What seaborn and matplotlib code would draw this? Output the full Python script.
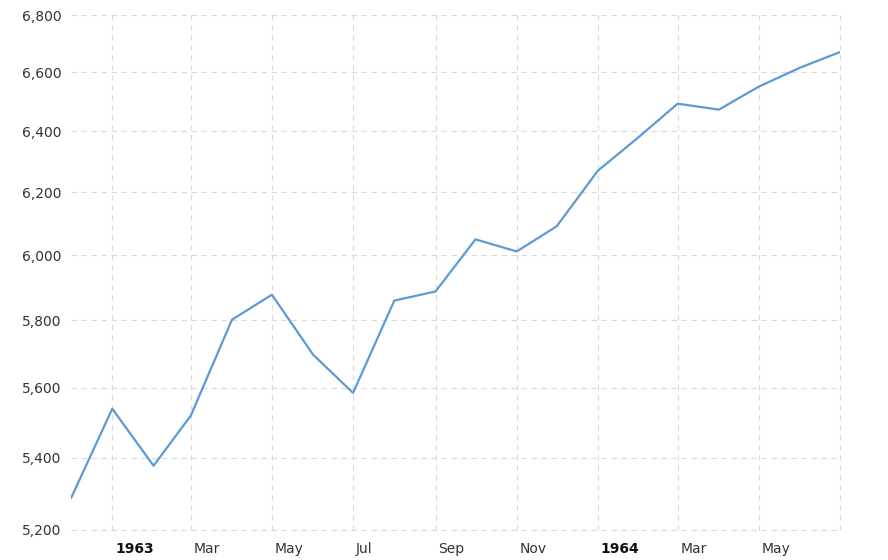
import pandas as pd
import matplotlib
matplotlib.use('Agg')
import matplotlib.pyplot as plt
import matplotlib.ticker as mticker
import matplotlib.transforms as mtransforms
import seaborn as sns

# Monthly values, Dec 1962 - Jul 1964
months = pd.date_range('1962-12-01', periods=20, freq='MS')
values = [5287, 5539, 5377, 5519, 5802, 5878, 5697, 5585, 5860, 5888,
          6050, 6012, 6091, 6270, 6382, 6493, 6473, 6551, 6616, 6670]

y_ticks = [5200, 5400, 5600, 5800, 6000, 6200, 6400, 6600, 6800]
x_tick_dates = pd.to_datetime(['1963-01-01', '1963-03-01', '1963-05-01', '1963-07-01',
                               '1963-09-01', '1963-11-01', '1964-01-01', '1964-03-01',
                               '1964-05-01'])
x_tick_labels = ['1963', 'Mar', 'May', 'Jul', 'Sep', 'Nov', '1964', 'Mar', 'May']

df = pd.DataFrame({'date': months, 'value': values})

sns.set_style('white')
plt.rcParams['font.family'] = ['DejaVu Sans']

fig = plt.figure(figsize=(8.88, 5.6), dpi=100)
ax = fig.add_axes([0.0800, 0.0536, 0.8659, 0.9196])

sns.lineplot(data=df, x='date', y='value', ax=ax, color='#5b9bd5', linewidth=1.6, zorder=3)

ax.set_yscale('log')
ax.set_ylim(5200, 6800)
ax.set_xlim(months[0], months[-1])
ax.yaxis.set_major_locator(mticker.FixedLocator(y_ticks))
ax.yaxis.set_minor_locator(mticker.NullLocator())
ax.set_yticklabels([f'{v:,}' for v in y_ticks])

ax.set_xticks(x_tick_dates)
ax.set_xticklabels(x_tick_labels)
ax.xaxis.set_minor_locator(mticker.NullLocator())

ax.set_xlabel('')
ax.set_ylabel('')
for s in ax.spines.values():
    s.set_visible(False)

grid_style = dict(color='#dadada', linestyle=(0, (5, 4)), linewidth=0.8)
ax.grid(True, which='major', **grid_style)
for gl in ax.xaxis.get_gridlines() + ax.yaxis.get_gridlines():
    gl.set_clip_on(False)
ax.axvline(months[-1], clip_on=False, zorder=0, **grid_style)

ax.tick_params(axis='both', length=0, labelsize=10, colors='#333333')
ax.tick_params(axis='x', pad=9)
ax.tick_params(axis='y', pad=7)

offset = mtransforms.ScaledTranslation(3 / 100, 0, fig.dpi_scale_trans)
for lbl in ax.get_xticklabels():
    lbl.set_horizontalalignment('left')
    lbl.set_transform(lbl.get_transform() + offset)
    if lbl.get_text() in ('1963', '1964'):
        lbl.set_fontweight('bold')
        lbl.set_color('#111111')

plt.savefig('out.png', dpi=100)
